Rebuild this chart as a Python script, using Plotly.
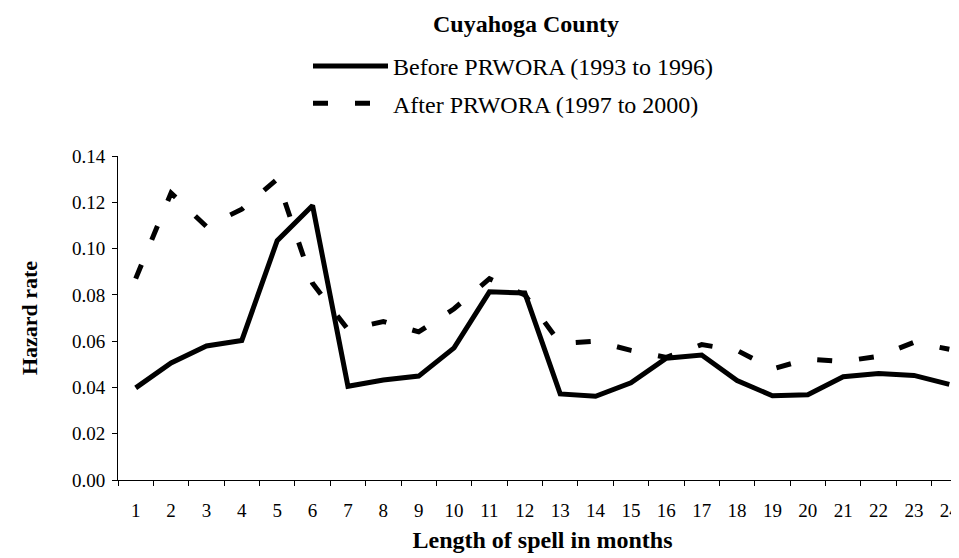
import plotly.graph_objects as go

months = [str(m) for m in range(1, 25)]
before = [0.0398, 0.0506, 0.0579, 0.0603, 0.1034, 0.1186, 0.0405, 0.0432, 0.0449, 0.0571,
          0.0813, 0.0808, 0.0372, 0.0362, 0.0420, 0.0526, 0.0540, 0.0430, 0.0364, 0.0368,
          0.0446, 0.0460, 0.0452, 0.0413]
after = [0.0870, 0.1240, 0.1095, 0.1170, 0.1300, 0.0850, 0.0650, 0.0685, 0.0640, 0.0740,
         0.0870, 0.0800, 0.0590, 0.0600, 0.0560, 0.0530, 0.0585, 0.0560, 0.0480, 0.0523,
         0.0512, 0.0535, 0.0595, 0.0565]
y_ticks = [0.00, 0.02, 0.04, 0.06, 0.08, 0.10, 0.12, 0.14]

FONT = "Liberation Serif"
W, H = 959, 558
ML, MR, MT, MB = 110, 0, 30, 86
PLOT_TOP_PX = 148
paper_h = H - MT - MB
y_dom_top = (H - MB - PLOT_TOP_PX) / paper_h

fig = go.Figure()
fig.add_trace(go.Scatter(x=months, y=before, mode="lines",
                         name="Before PRWORA (1993 to 1996)", legendgroup="a",
                         line=dict(color="black", width=5)))
fig.add_trace(go.Scatter(x=months, y=after, mode="lines",
                         name="After PRWORA (1997 to 2000)", legendgroup="b",
                         line=dict(color="black", width=5, dash="15px,27px")))

fig.update_layout(
    width=W, height=H,
    paper_bgcolor="white", plot_bgcolor="white",
    margin=dict(l=ML, r=MR, t=MT, b=MB),
    font=dict(family=FONT, color="black", size=19),
    title=dict(text="<b>Cuyahoga County</b>", font=dict(family=FONT, size=24, color="black"),
               x=518 / W, xref="container", xanchor="center",
               y=1 - 16 / H, yref="container", yanchor="middle"),
    legend=dict(x=(300 - ML) / (W - ML - MR), xanchor="left",
                y=(H - MB - 36) / paper_h, yanchor="top",
                font=dict(family=FONT, size=24, color="black"),
                itemwidth=75, tracegroupgap=3, bgcolor="rgba(0,0,0,0)"),
    showlegend=True,
)
fig.update_xaxes(
    type="category", range=[-0.5, 23.5], tickson="boundaries",
    ticks="outside", ticklen=5, tickcolor="black", tickwidth=1,
    showline=True, linecolor="black", linewidth=1, showgrid=False, zeroline=False,
    ticklabelstandoff=13, tickfont=dict(size=19), tickangle=0,
    title=dict(text="<b>Length of spell in months</b>", font=dict(size=24), standoff=11),
)
fig.update_yaxes(
    domain=[0, y_dom_top],
    range=[0, 0.14], tickvals=y_ticks, tickformat=".2f",
    ticks="outside", ticklen=5, tickcolor="black", tickwidth=1,
    showline=True, linecolor="black", linewidth=1, showgrid=False, zeroline=False,
    ticklabelstandoff=3, tickfont=dict(size=19),
    title=dict(text="<b>Hazard rate</b>", font=dict(size=22), standoff=28),
)

fig.write_html("out.html")
